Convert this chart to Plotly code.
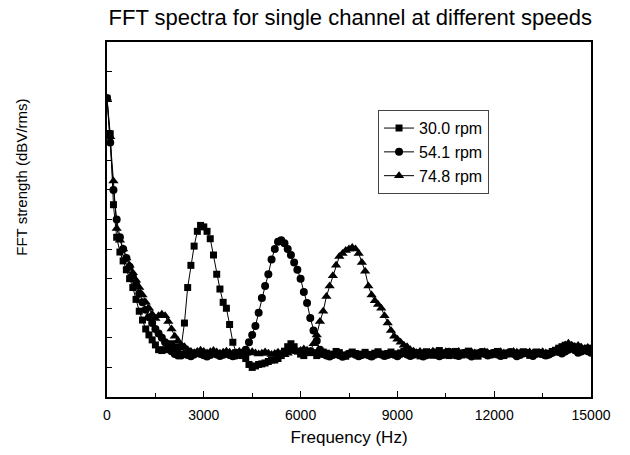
import plotly.graph_objects as go

# frequency bins (Hz), 100 Hz apart
freq = list(range(0, 15001, 100))

rpm_30 = [
    -19, -31, -55, -66, -71, -74, -77, -80, -83, -87,
    -91, -94, -97, -99, -100.7, -102.4, -104, -104.3, -104, -103,
    -102, -103, -104, -103, -95, -83, -75.5, -69, -64, -62,
    -62.5, -64, -66.5, -72, -78.5, -83.5, -88, -90, -95.5, -101.5,
    -105, -105.5, -106, -107, -109, -110, -109.5, -109, -108.8, -108.5,
    -108, -107.5, -107.5, -107, -106, -104.5, -103, -102, -103, -104.5,
    -105.5, -106, -105, -104.5, -105, -106, -105.5, -104.8, -105.2, -106,
    -105.5, -104.6, -105, -105.8, -106.2, -105.4, -104.8, -105.3, -106, -105.5,
    -104.9, -105.6, -106.1, -105.2, -104.7, -105.5, -106, -105.3, -104.8, -105.4,
    -105.9, -105.1, -104.6, -105.3, -105.8, -104.9, -105.5, -106.1, -105.2, -104.7,
    -105.4, -105.9, -104.8, -104.3, -105.1, -105.7, -106, -105.2, -104.6, -105.3,
    -105.8, -105.1, -104.5, -105.2, -105.9, -106.2, -105.4, -104.8, -105.3, -105.7,
    -105, -104.6, -105.4, -106, -105.5, -104.9, -105.3, -105.8, -105.1, -104.7,
    -105.2, -105.9, -105.4, -104.8, -105.1, -105.6, -105.9, -105.2, -104.6, -104.2,
    -103.5, -103, -102.5, -103.2, -102.8, -103.6, -103.1, -103.8, -104.2, -103.5,
    -104,
]

rpm_54 = [
    -19, -34, -50, -60, -66, -70, -73, -76, -79, -82,
    -85, -88, -90.5, -93, -95, -97, -98.5, -100, -101.5, -103,
    -104.5, -105.5, -106, -106, -105.5, -105.8, -106.2, -105.6, -105.1, -105.5,
    -105.9, -106.3, -105.8, -105.2, -105.6, -106.1, -105.7, -105.3, -105.8, -106.2,
    -106, -105.4, -105, -104, -101.5, -99, -96, -91.5, -86.5, -82.5,
    -78.5, -73.5, -70, -67.5, -67, -68, -70, -72, -74.5, -77,
    -80, -84.5, -88.2, -93.3, -97.5, -101, -104, -105.5, -106, -106.3,
    -105.8, -105.3, -105.9, -106.4, -106, -105.4, -105.1, -105.7, -106.2, -105.8,
    -105.3, -105.9, -106.3, -105.7, -105.2, -105.6, -106.1, -105.8, -105.3, -105.7,
    -106.2, -105.5, -105, -105.6, -106.1, -105.7, -105.2, -105.8, -106.3, -105.9,
    -105.4, -105, -105.6, -106.2, -105.8, -105.1, -104.7, -105.3, -105.9, -106.1,
    -105.5, -105, -105.7, -106.3, -105.9, -105.2, -104.8, -105.4, -106, -105.6,
    -105.1, -105.6, -106.1, -105.7, -105.2, -104.8, -105.5, -106.2, -105.8, -105.3,
    -105, -105.6, -106.1, -105.5, -105, -105.4, -106, -105.6, -105, -104.6,
    -104.8, -105.3, -104.6, -104, -103.4, -104.2, -105, -104.6, -104, -104.5,
    -105,
]

rpm_75 = [
    -19, -32, -47, -63, -67, -70, -73, -75.5, -78, -80.5,
    -83, -85.5, -88, -90, -92, -93.5, -92.5, -92, -92.5, -94.5,
    -97, -99.5, -101, -102.5, -103, -104, -104.6, -105, -104.6, -104.2,
    -104.6, -105.1, -104.7, -104.3, -104.8, -105.2, -104.9, -104.5, -104.9, -105.3,
    -105, -104.6, -104.9, -105.3, -105, -104.7, -105.1, -105.5, -105.2, -104.8,
    -105.2, -105.6, -105.3, -104.9, -105.3, -105.7, -105.2, -104.6, -104.3, -104.7,
    -104.3, -103.8, -104.2, -104.5, -102, -99, -94.5, -91, -86, -82.5,
    -79, -75.5, -72.5, -71.5, -70.5, -70, -69.5, -70, -71.5, -74.5,
    -77.5, -82.5, -85.5, -87.5, -88.7, -90, -92.5, -95, -97.5, -99.5,
    -100.5, -101.5, -102.5, -103, -104, -104.5, -105, -104.6, -105.1, -105.5,
    -105, -104.5, -105.1, -105.6, -105.2, -104.7, -105, -105.5, -105.1, -104.6,
    -105.2, -105.7, -105.3, -104.8, -105.1, -105.6, -105.2, -104.7, -105, -105.4,
    -105.8, -105.3, -104.7, -105.1, -105.6, -105.2, -104.6, -104.9, -105.4, -105.7,
    -105.3, -104.8, -105.2, -105.6, -105.1, -104.7, -105.1, -105.5, -105, -104.3,
    -103.8, -103.2, -102.4, -101.8, -102.5, -103, -102.6, -103.2, -103.7, -103.3,
    -103.8,
]

x_ticks = [0, 3000, 6000, 9000, 12000, 15000]

series = [
    ("30.0 rpm", rpm_30, "square", 7),
    ("54.1 rpm", rpm_54, "circle", 8),
    ("74.8 rpm", rpm_75, "triangle-up", 9),
]

fig = go.Figure()
for name, vals, sym, sz in series:
    fig.add_trace(go.Scatter(
        x=freq, y=vals, name=name, mode="lines+markers",
        line=dict(color="black", width=1),
        marker=dict(symbol=sym, size=sz, color="black"),
    ))

fig.update_layout(
    width=630, height=455,
    margin=dict(l=107, r=39, t=42, b=58, autoexpand=False),
    paper_bgcolor="white", plot_bgcolor="white",
    font=dict(family="Liberation Sans, Arial", color="black", size=14),
    title=dict(text="FFT spectra for single channel at different speeds",
               x=0.556, xanchor="center", y=0.963, yanchor="middle",
               font=dict(size=22)),
    legend=dict(x=0.56, y=0.808, xanchor="left", yanchor="top",
                bordercolor="#444", borderwidth=1, bgcolor="white",
                font=dict(size=16), tracegroupgap=0, itemwidth=30),
    showlegend=True,
)
fig.add_annotation(
    text="FFT strength (dBV/rms)", textangle=-90, showarrow=False,
    xref="paper", yref="paper", x=-0.176, y=0.62,
    xanchor="center", yanchor="middle", font=dict(size=15),
)
fig.update_xaxes(
    range=[0, 15000], tickvals=x_ticks, ticktext=[str(t) for t in x_ticks],
    ticks="inside", ticklen=6, tickcolor="black", ticklabelstandoff=4,
    minor=dict(tickvals=[1500, 4500, 7500, 10500, 13500], ticks="inside", ticklen=4, tickcolor="black"),
    showline=True, linecolor="black", linewidth=1.5, mirror=True,
    showgrid=False, zeroline=False, automargin=False,
    title=dict(text="Frequency (Hz)", font=dict(size=17), standoff=10),
    tickfont=dict(size=14),
)
fig.update_yaxes(
    range=[-120, 0], dtick=10, ticks="inside", ticklen=5, tickcolor="black",
    showticklabels=False,
    showline=True, linecolor="black", linewidth=1.5, mirror=True,
    showgrid=False, zeroline=False, automargin=False,
)

fig.write_html("out.html", config={"displayModeBar": False},
               post_script="document.body.style.margin='0px';")
